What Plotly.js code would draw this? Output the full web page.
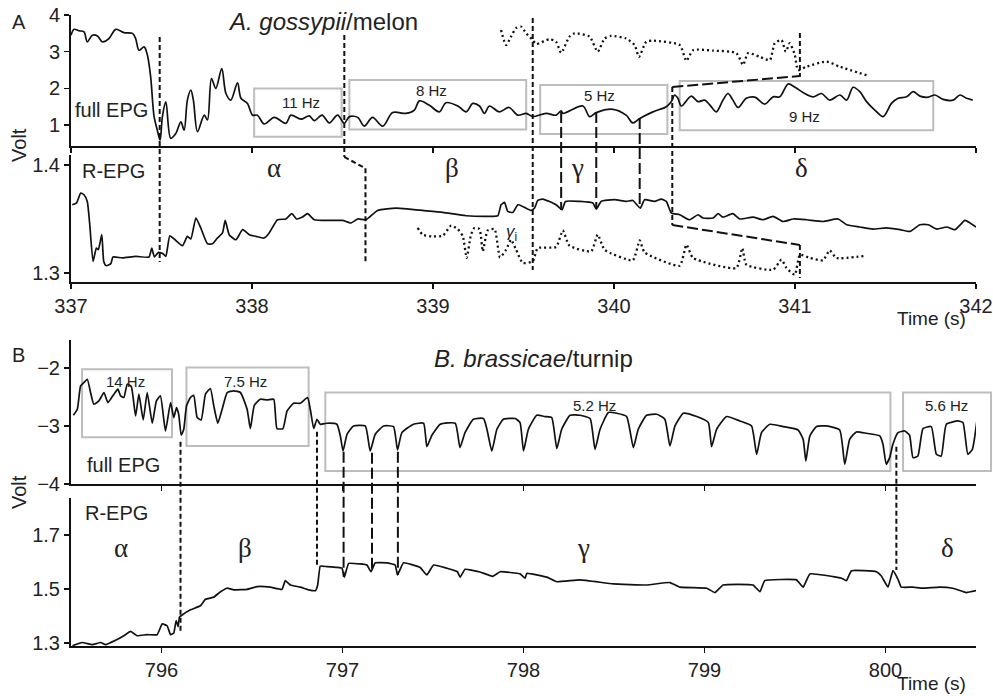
<!DOCTYPE html>
<html><head><meta charset="utf-8">
<script src="https://cdn.plot.ly/plotly-3.0.1.min.js"></script>
<style>html,body{margin:0;padding:0;background:#fff}#chart{width:993px;height:696px}</style>
</head><body><div id="chart"></div>
<script>
// ---------- DATA (time s, volt) ----------
const aTicks = [337,338,339,340,341,342];
const bTicks = [796,797,798,799,800];

// Panel A, full EPG
const aFull = [[337.0,3.45],[337.017,3.61],[337.044,3.57],[337.072,3.54],[337.09,3.27],[337.118,3.45],[337.146,3.43],[337.173,3.27],[337.21,3.36],[337.247,3.61],[337.293,3.52],[337.34,3.50],[337.357,3.36],[337.376,3.04],[337.404,3.13],[337.422,2.91],[337.44,2.32],[337.459,1.23],[337.477,0.86],[337.492,0.59],[337.505,1.23],[337.524,1.63],[337.551,0.64],[337.579,0.77],[337.607,1.09],[337.625,0.86],[337.643,1.68],[337.662,1.95],[337.676,1.68],[337.699,0.82],[337.736,1.27],[337.754,1.14],[337.776,2.27],[337.8,2.0],[337.833,2.54],[337.856,1.86],[337.883,1.68],[337.92,2.15],[337.939,1.73],[337.975,1.59],[338.003,1.27],[338.03,1.27],[338.067,1.03],[338.123,1.21],[338.187,1.05],[338.215,1.27],[338.27,1.16],[338.316,1.25],[338.344,1.12],[338.387,1.27],[338.427,1.06],[338.473,1.27],[338.51,1.05],[338.538,1.23],[338.584,1.21],[338.62,0.97],[338.666,1.21],[338.722,0.97],[338.777,1.34],[338.851,1.32],[338.897,1.41],[338.925,1.66],[338.98,1.54],[339.035,1.36],[339.072,1.61],[339.137,1.52],[339.183,1.36],[339.22,1.59],[339.257,1.52],[339.284,1.32],[339.312,1.52],[339.367,1.36],[339.42,1.48],[339.469,1.27],[339.515,1.32],[339.551,1.23],[339.625,1.32],[339.68,1.27],[339.708,1.39],[339.717,1.32],[339.828,1.52],[339.865,1.23],[339.902,1.34],[339.994,1.43],[340.067,1.27],[340.104,1.06],[340.142,1.18],[340.215,1.36],[340.289,1.50],[340.317,1.64],[340.335,1.82],[340.353,1.73],[340.372,1.52],[340.427,1.79],[340.464,1.64],[340.501,1.68],[340.529,1.55],[340.565,1.36],[340.602,1.68],[340.63,1.86],[340.657,1.68],[340.685,1.48],[340.731,1.73],[340.778,1.76],[340.833,1.57],[340.879,1.77],[340.916,1.77],[340.962,2.12],[341.0,2.03],[341.054,1.86],[341.1,1.77],[341.146,1.86],[341.192,1.68],[341.248,1.82],[341.285,1.68],[341.321,2.03],[341.358,1.91],[341.395,1.64],[341.441,1.41],[341.487,1.23],[341.533,1.59],[341.57,1.73],[341.616,1.77],[341.653,1.91],[341.69,1.79],[341.736,1.76],[341.773,1.82],[341.819,1.70],[341.874,1.68],[341.912,1.82],[341.948,1.73],[341.982,1.68]];

// Panel A, full EPG magnified detail (dotted)
const aFullDetail = [[339.376,3.59],[339.404,3.18],[339.431,3.41],[339.459,3.64],[339.487,3.68],[339.515,3.50],[339.551,3.32],[339.57,3.21],[339.644,3.34],[339.68,3.27],[339.708,2.97],[339.754,3.41],[339.782,3.50],[339.865,3.41],[339.91,3.0],[339.948,3.36],[339.985,3.43],[340.067,3.36],[340.114,3.18],[340.138,2.86],[340.178,3.27],[340.215,3.30],[340.363,3.18],[340.4,2.75],[340.437,3.04],[340.547,3.03],[340.676,2.96],[340.713,2.64],[340.741,2.96],[340.805,2.86],[340.861,2.77],[340.888,3.23],[340.925,3.32],[340.949,3.0],[340.971,3.23],[340.999,2.91],[341.017,2.50],[341.063,2.59],[341.174,2.73],[341.248,2.59],[341.395,2.36]];

// Panel A, R-EPG
const aR = [[337.007,1.363],[337.03,1.3646],[337.054,1.3739],[337.072,1.3723],[337.09,1.366],[337.103,1.346],[337.122,1.3107],[337.14,1.323],[337.151,1.3215],[337.17,1.3354],[337.181,1.3107],[337.195,1.3067],[337.22,1.3086],[337.232,1.3148],[337.284,1.3139],[337.358,1.3153],[337.431,1.3148],[337.446,1.323],[337.461,1.3148],[337.483,1.319],[337.509,1.3178],[337.524,1.3153],[337.546,1.3344],[337.57,1.3314],[337.616,1.3252],[337.643,1.3338],[337.662,1.3314],[337.69,1.3508],[337.717,1.3416],[337.754,1.327],[337.782,1.327],[337.809,1.3323],[337.837,1.337],[337.852,1.3486],[337.874,1.3354],[337.911,1.3307],[337.948,1.34],[337.985,1.3354],[338.022,1.3338],[338.067,1.3323],[338.095,1.337],[338.141,1.3492],[338.187,1.3499],[338.22,1.3548],[338.246,1.3499],[338.279,1.3517],[338.307,1.3548],[338.344,1.3492],[338.427,1.3486],[338.5,1.3486],[338.547,1.3462],[338.584,1.3499],[338.63,1.3492],[338.694,1.3578],[338.796,1.36],[338.869,1.359],[338.943,1.3578],[339.054,1.356],[339.183,1.3529],[339.312,1.3523],[339.358,1.3529],[339.376,1.363],[339.395,1.3652],[339.413,1.3569],[339.441,1.356],[339.469,1.363],[339.496,1.3615],[339.542,1.3578],[339.561,1.36],[339.579,1.367],[339.607,1.3683],[339.68,1.363],[339.713,1.3584],[339.732,1.3661],[339.81,1.3661],[339.883,1.3646],[339.902,1.359],[339.929,1.3661],[340.003,1.3677],[340.067,1.3661],[340.104,1.367],[340.145,1.36],[340.169,1.3677],[340.224,1.3661],[340.261,1.3683],[340.289,1.3661],[340.317,1.3554],[340.363,1.3538],[340.418,1.3492],[340.464,1.3538],[340.492,1.3508],[340.547,1.3508],[340.575,1.3548],[340.602,1.3517],[340.657,1.3548],[340.695,1.3499],[340.768,1.3517],[340.823,1.3492],[340.879,1.3523],[340.934,1.3476],[340.99,1.3499],[341.063,1.3492],[341.155,1.3476],[341.238,1.3499],[341.285,1.3446],[341.358,1.3425],[341.431,1.3406],[341.505,1.3416],[341.58,1.34],[341.635,1.3384],[341.69,1.3446],[341.736,1.3446],[341.783,1.3406],[341.838,1.3425],[341.884,1.34],[341.939,1.3486],[341.967,1.3462],[342.0,1.3425]];

// Panel A, R-EPG magnified detail (dotted)
const aRDetail = [[338.915,1.3416],[338.943,1.3354],[338.998,1.3338],[339.054,1.3344],[339.1,1.3437],[339.137,1.3406],[339.165,1.3338],[339.186,1.3139],[339.21,1.3354],[339.229,1.3416],[339.257,1.3406],[339.275,1.32],[339.302,1.3393],[339.34,1.3406],[339.37,1.3145],[339.404,1.3215],[339.431,1.3307],[339.459,1.3215],[339.496,1.3092],[339.551,1.3107],[339.579,1.323],[339.68,1.324],[339.717,1.3393],[339.754,1.3252],[339.874,1.32],[339.91,1.3354],[339.948,1.3215],[340.104,1.3117],[340.142,1.3301],[340.169,1.319],[340.363,1.3067],[340.4,1.3261],[340.437,1.3139],[340.676,1.3046],[340.709,1.323],[340.731,1.3077],[340.879,1.303],[340.925,1.3123],[340.953,1.3046],[340.999,1.2984],[341.027,1.3169],[341.082,1.3139],[341.155,1.3117],[341.192,1.3209],[341.229,1.3139],[341.395,1.316]];

// Panel B, full EPG
const bFull = [[795.513,-2.816],[795.535,-2.712],[795.553,-2.31],[795.571,-2.252],[795.59,-2.195],[795.608,-2.424],[795.626,-2.626],[795.654,-2.569],[795.682,-2.424],[795.704,-2.597],[795.737,-2.453],[795.759,-2.367],[795.774,-2.483],[795.792,-2.51],[795.811,-2.281],[795.833,-2.321],[795.857,-2.828],[795.875,-2.453],[795.899,-2.897],[795.921,-2.424],[795.949,-2.953],[795.972,-2.569],[795.994,-2.483],[796.022,-3.086],[796.05,-2.597],[796.068,-2.855],[796.083,-2.683],[796.095,-2.798],[796.109,-3.16],[796.123,-3.057],[796.138,-2.655],[796.16,-2.51],[796.178,-2.471],[796.197,-2.855],[796.219,-2.897],[796.243,-2.453],[796.27,-2.355],[796.289,-2.655],[796.311,-2.953],[796.335,-2.712],[796.363,-2.424],[796.399,-2.397],[796.436,-2.424],[796.473,-2.712],[796.491,-3.045],[796.513,-2.643],[796.546,-2.54],[796.583,-2.552],[796.62,-2.54],[796.638,-3.045],[796.671,-3.045],[796.694,-2.741],[796.73,-2.609],[796.767,-2.609],[796.807,-2.51],[796.822,-2.712],[796.841,-3.045],[796.859,-2.884],[796.877,-2.971],[796.914,-2.953],[796.969,-2.971],[796.988,-3.172],[797.003,-3.431],[797.025,-3.143],[797.061,-3.0],[797.126,-3.0],[797.153,-3.431],[797.181,-3.143],[797.227,-3.0],[797.282,-3.011],[797.304,-3.414],[797.328,-3.115],[797.392,-2.971],[797.448,-2.953],[797.466,-3.356],[797.494,-3.16],[797.54,-2.971],[797.623,-2.953],[797.649,-3.373],[797.677,-3.115],[797.723,-2.884],[797.779,-2.872],[797.798,-3.057],[797.825,-3.431],[797.853,-3.057],[797.889,-2.884],[797.954,-2.872],[797.981,-2.941],[798.0,-3.431],[798.027,-3.057],[798.073,-2.816],[798.119,-2.838],[798.156,-2.855],[798.184,-3.39],[798.211,-3.057],[798.257,-2.816],[798.312,-2.816],[798.368,-2.872],[798.395,-3.402],[798.423,-3.057],[798.469,-2.769],[798.515,-2.781],[798.57,-2.838],[798.607,-3.373],[798.634,-3.057],[798.68,-2.816],[798.736,-2.798],[798.781,-2.884],[798.809,-3.345],[798.837,-3.0],[798.883,-2.781],[798.957,-2.838],[799.021,-2.941],[799.039,-3.356],[799.067,-3.057],[799.122,-2.838],[799.196,-2.914],[799.26,-3.0],[799.288,-3.488],[799.315,-3.115],[799.361,-2.971],[799.435,-3.011],[799.517,-3.069],[799.545,-3.229],[799.56,-3.603],[799.582,-3.172],[799.619,-3.011],[799.674,-3.0],[799.747,-3.069],[799.775,-3.66],[799.802,-3.229],[799.839,-3.103],[799.894,-3.126],[799.968,-3.172],[799.986,-3.316],[800.004,-3.66],[800.023,-3.545],[800.041,-3.316],[800.069,-3.115],[800.106,-3.086],[800.133,-3.16],[800.152,-3.545],[800.179,-3.517],[800.207,-3.045],[800.253,-3.011],[800.281,-3.488],[800.308,-3.517],[800.336,-2.971],[800.4,-2.914],[800.428,-2.941],[800.455,-3.488],[800.48,-3.402],[800.505,-2.914]];

// Panel B, R-EPG
const bR = [[795.508,1.29],[795.562,1.302],[795.618,1.294],[795.664,1.302],[795.691,1.294],[795.746,1.31],[795.792,1.327],[795.829,1.343],[795.866,1.327],[795.921,1.331],[795.976,1.331],[796.004,1.371],[796.031,1.364],[796.05,1.331],[796.068,1.337],[796.081,1.383],[796.092,1.361],[796.099,1.396],[796.114,1.404],[796.16,1.423],[796.215,1.438],[796.243,1.462],[796.289,1.47],[796.326,1.49],[796.362,1.503],[796.399,1.497],[796.473,1.499],[796.528,1.509],[796.602,1.507],[796.666,1.499],[796.684,1.531],[796.712,1.515],[796.767,1.507],[796.813,1.497],[796.85,1.494],[796.863,1.515],[796.877,1.585],[796.914,1.583],[796.969,1.58],[796.997,1.577],[797.01,1.544],[797.034,1.595],[797.098,1.593],[797.135,1.589],[797.157,1.564],[797.181,1.597],[797.245,1.597],[797.291,1.589],[797.304,1.552],[797.337,1.597],[797.429,1.58],[797.466,1.552],[797.503,1.589],[797.577,1.577],[797.635,1.564],[797.65,1.544],[797.677,1.573],[797.76,1.563],[797.83,1.547],[797.871,1.564],[797.981,1.556],[798.009,1.54],[798.018,1.558],[798.129,1.544],[798.184,1.527],[798.312,1.534],[798.496,1.519],[798.68,1.515],[798.809,1.524],[798.864,1.507],[799.012,1.503],[799.057,1.487],[799.103,1.515],[799.268,1.515],[799.306,1.49],[799.333,1.531],[799.508,1.534],[799.545,1.507],[799.582,1.556],[799.711,1.546],[799.757,1.54],[799.784,1.531],[799.812,1.568],[799.95,1.564],[799.977,1.548],[800.014,1.507],[800.041,1.568],[800.069,1.536],[800.087,1.507],[800.151,1.507],[800.206,1.503],[800.298,1.507],[800.372,1.503],[800.446,1.487],[800.501,1.494]];

// frequency labels and phase labels
const aFreqLabels = ['11 Hz','8 Hz','5 Hz','9 Hz'];
const bFreqLabels = ['14 Hz','7.5 Hz','5.2 Hz','5.6 Hz'];
const phaseLabels = ['α','β','γ','δ'];

// ---------- STYLE / LAYOUT ----------
const FONT = 'Liberation Sans, Arial, Helvetica, sans-serif';
const SERIF = 'Liberation Serif, Times New Roman, serif';
const INK = '#111';
const TXT = '#222';
const BOXC = '#bdbdbd';
const SHORT = '5px,3px', LONG = '11px,4px', DOT = '2px,3px';

function tr(pts, xa, ya, opts) {
  opts = opts || {};
  return {type:'scatter', mode:'lines', x: pts.map(p=>p[0]), y: pts.map(p=>p[1]),
    xaxis: xa, yaxis: ya, hoverinfo:'skip', showlegend:false,
    line:{color: INK, width: opts.dotted ? 2.3 : 1.7, dash: opts.dotted ? DOT : 'solid',
      shape: opts.smooth ? 'spline' : 'linear', smoothing: opts.smooth || 0}};
}
const data = [
  tr(aFull,'x','y',{smooth:0.9}), tr(aFullDetail,'x','y',{dotted:true, smooth:0.6}),
  tr(aR,'x2','y2',{smooth:0.5}), tr(aRDetail,'x2','y2',{dotted:true, smooth:0.5}),
  tr(bFull,'x3','y3',{smooth:0.45}), tr(bR,'x4','y4',{smooth:0.3})
];

const axBase = {showline:true, linecolor:INK, linewidth:2, ticks:'outside', ticklen:5, tickwidth:1.5,
  tickcolor:INK, showgrid:false, zeroline:false, fixedrange:true,
  tickfont:{family:FONT, size:20, color:TXT}};
const ax = o => Object.assign({}, axBase, o);

const A_RANGE = [337, 342], B_RANGE = [795.5, 800.5];

const layout = {
  width:993, height:696, paper_bgcolor:'#fff', plot_bgcolor:'#fff',
  margin:{l:71, r:17, t:15, b:50}, showlegend:false,
  font:{family:FONT, color:TXT},
  xaxis: ax({domain:[0,1], range:A_RANGE, anchor:'y', tickvals:aTicks, showticklabels:false}),
  yaxis: ax({domain:[0.7924,1], range:[0.43,4.0], anchor:'x', tickvals:[1,2,3,4]}),
  xaxis2: ax({domain:[0,1], range:A_RANGE, anchor:'y2', tickvals:aTicks}),
  yaxis2: ax({domain:[0.5769,0.7781], range:[1.2917,1.409], anchor:'x2', tickvals:[1.3,1.4], ticktext:['1.3','1.4']}),
  xaxis3: ax({domain:[0,1], range:B_RANGE, anchor:'y3', tickvals:bTicks, showticklabels:false}),
  yaxis3: ax({domain:[0.2567,0.4849], range:[-4,-1.52], anchor:'x3', tickvals:[-4,-3,-2]}),
  xaxis4: ax({domain:[0,1], range:B_RANGE, anchor:'y4', tickvals:bTicks}),
  yaxis4: ax({domain:[0,0.2345], range:[1.289,1.837], anchor:'x4', tickvals:[1.3,1.5,1.7], ticktext:['1.3','1.5','1.7']}),
  shapes:[], annotations:[]
};

// gray frequency boxes
const aBoxes = [[338.012,338.495,0.68,2.0],[338.538,339.515,0.88,2.23],[339.592,340.295,0.755,2.09],[340.363,341.764,0.86,2.2]];
aBoxes.forEach(b => layout.shapes.push({type:'rect', xref:'x', yref:'y', x0:b[0], x1:b[1], y0:b[2], y1:b[3], layer:'below', line:{color:BOXC, width:2}}));
const bBoxes = [[795.561,796.058,-3.195,-2.024],[796.138,796.813,-3.345,-1.995],[796.905,800.027,-3.776,-2.424]];
bBoxes.forEach(b => layout.shapes.push({type:'rect', xref:'x3', yref:'y3', x0:b[0], x1:b[1], y0:b[2], y1:b[3], layer:'below', line:{color:BOXC, width:2}}));
// last box runs past the end of the axis: place in paper x
const toPaperB = x => (x - B_RANGE[0]) / (B_RANGE[1] - B_RANGE[0]);
layout.shapes.push({type:'rect', xref:'paper', yref:'y3', x0:toPaperB(800.097), x1:toPaperB(800.583), y0:-3.776, y1:-2.424, layer:'below', line:{color:BOXC, width:2}});

// dashed guide lines (x in data, y in paper)
const guides = [
  ['x',337.49,0.965,337.49,0.6086,SHORT],
  ['x',338.51,0.9683,338.51,0.775,SHORT],
  ['x',338.51,0.775,338.627,0.757,SHORT],
  ['x',338.627,0.757,338.627,0.6086,SHORT],
  ['x',339.551,0.9952,339.551,0.5959,SHORT],
  ['x',339.708,0.8463,339.708,0.691,LONG],
  ['x',339.902,0.8463,339.902,0.6941,LONG],
  ['x',340.142,0.8368,340.142,0.6941,LONG],
  ['x',340.322,0.8859,340.322,0.6672,SHORT],
  ['x',340.322,0.8859,341.027,0.9033,LONG],
  ['x',340.322,0.6672,341.027,0.6355,LONG],
  ['x',341.027,0.9715,341.027,0.9017,SHORT],
  ['x',341.027,0.6355,341.027,0.5832,SHORT],
  ['x3',796.105,0.3238,796.105,0.0227,SHORT],
  ['x3',796.859,0.3396,796.859,0.1257,SHORT],
  ['x3',797.006,0.3079,797.006,0.1098,LONG],
  ['x3',797.163,0.3063,797.163,0.1177,LONG],
  ['x3',797.306,0.3079,797.306,0.1125,LONG],
  ['x3',800.06,0.3158,800.06,0.1204,SHORT]
];
guides.forEach(g => layout.shapes.push({type:'line', xref:g[0], yref:'paper', x0:g[1], y0:g[2], x1:g[3], y1:g[4], line:{color:INK, width:2, dash:g[5]}}));

// annotations
function ann(text, xref, x, y, size, opts) {
  layout.annotations.push(Object.assign({text, xref, yref:'paper', x, y, showarrow:false,
    xanchor:'center', yanchor:'middle', font:{family:FONT, size, color:TXT}}, opts||{}));
}
ann('A','paper',-0.0575,0.9895,20);
ann('B','paper',-0.0575,0.4612,20);
ann('<i>A. gossypii</i>/melon','paper',0.2785,0.9895,24);
ann('<i>B. brassicae</i>/turnip','paper',0.5105,0.4564,24);
ann('full EPG','paper',0.0022,0.8494,20,{xanchor:'left'});
ann('R-EPG','paper',0.0099,0.7528,20,{xanchor:'left'});
ann('full EPG','paper',0.0155,0.2868,20,{xanchor:'left'});
ann('R-EPG','paper',0.0133,0.2108,20,{xanchor:'left'});
ann('Volt','paper',-0.0575,0.794,20,{textangle:-90});
ann('Volt','paper',-0.0575,0.244,20,{textangle:-90});
ann('Time (s)','paper',0.951,0.519,19,{borderpad:0});
ann('Time (s)','paper',0.951,-0.0595,19,{borderpad:0});

const aPhaseX = [338.123,339.107,339.799,341.038];
const bPhaseX = [795.774,796.464,798.329,800.343];
phaseLabels.forEach((p,i) => {
  ann(p,'x',aPhaseX[i],0.758,27,{font:{family:SERIF,size:27,color:TXT}});
  ann(p,'x3',bPhaseX[i],0.1553,27,{font:{family:SERIF,size:27,color:TXT}});
});
ann('<i>γ</i><sub>i</sub>','x',339.434,0.6545,17);

const aFreqPos = [[338.272,0.8621],[338.99,0.8811],[339.92,0.8732],[341.054,0.8384]];
const bFreqPos = [[795.801,0.4189],[796.464,0.4189],[798.395,0.3819],[800.336,0.3819]];
aFreqLabels.forEach((t,i) => ann(t,'x',aFreqPos[i][0],aFreqPos[i][1],15));
bFreqLabels.forEach((t,i) => ann(t,'x3',bFreqPos[i][0],bFreqPos[i][1],15));

Plotly.newPlot('chart', data, layout, {staticPlot:true, displayModeBar:false});
</script>
</body></html>
